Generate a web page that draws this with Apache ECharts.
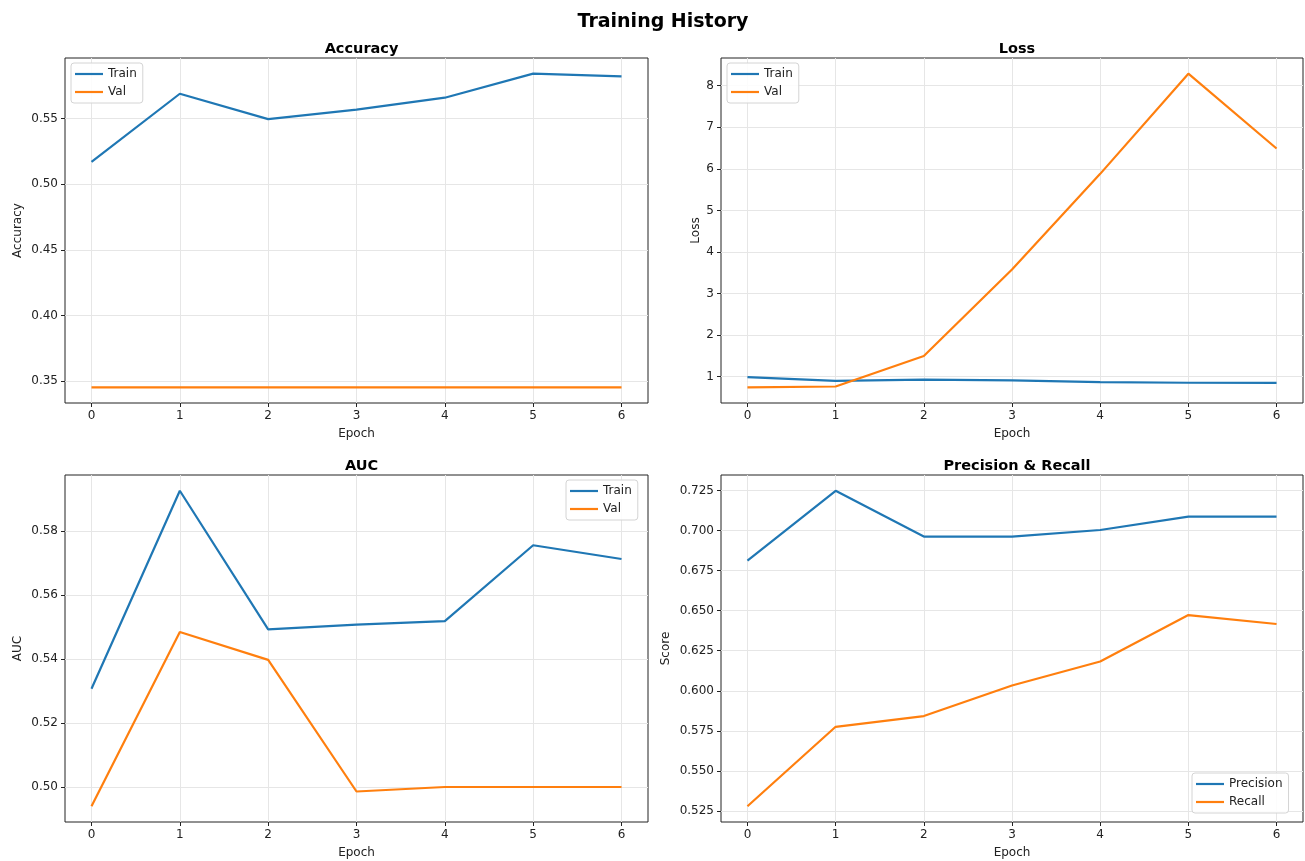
<!DOCTYPE html>
<html><head><meta charset="utf-8">
<script src="https://cdn.jsdelivr.net/npm/echarts@6/dist/echarts.min.js"></script>
<style>html,body{margin:0;padding:0;background:#fff}#c{width:1305px;height:861px}</style>
</head><body><div id="c"></div>
<script>
const epochs = [0, 1, 2, 3, 4, 5, 6];
const accTrain = [0.517, 0.569, 0.5497, 0.5569, 0.566, 0.5843, 0.5823];
const accVal = [0.3452, 0.3452, 0.3452, 0.3452, 0.3452, 0.3452, 0.3452];
const lossTrain = [0.99, 0.90, 0.93, 0.91, 0.87, 0.855, 0.85];
const lossVal = [0.745, 0.765, 1.50, 3.58, 5.88, 8.29, 6.49];
const aucTrain = [0.5307, 0.5925, 0.5492, 0.5507, 0.5518, 0.5755, 0.5712];
const aucVal = [0.494, 0.5484, 0.5397, 0.4986, 0.5, 0.5, 0.5];
const precision = [0.6813, 0.7249, 0.6963, 0.6963, 0.7004, 0.7088, 0.7088];
const recall = [0.5279, 0.5775, 0.5842, 0.6033, 0.6183, 0.6473, 0.6417];

const xTicks = [0, 1, 2, 3, 4, 5, 6];
const accTicks = [0.35, 0.40, 0.45, 0.50, 0.55];
const lossTicks = [1, 2, 3, 4, 5, 6, 7, 8];
const aucTicks = [0.50, 0.52, 0.54, 0.56, 0.58];
const prTicks = [0.525, 0.550, 0.575, 0.600, 0.625, 0.650, 0.675, 0.700, 0.725];

const BLUE = '#1f77b4', ORANGE = '#ff7f0e';
const FONT = 'DejaVu Sans';
const TXT = '#222';

function autoRange(arrs) {
  const all = [].concat(...arrs);
  const mn = Math.min(...all), mx = Math.max(...all);
  const p = 0.05 * (mx - mn);
  return [mn - p, mx + p];
}
const xR = autoRange([epochs]);

const grids = [
  {left: 65, top: 58, width: 583, height: 345},
  {left: 721, top: 58, width: 582, height: 345},
  {left: 65, top: 475, width: 583, height: 347},
  {left: 721, top: 475, width: 582, height: 347}
];

const panels = [
  {title: 'Accuracy', yname: 'Accuracy', ticks: accTicks, dec: 2, s: [['Train', accTrain, BLUE], ['Val', accVal, ORANGE]], gap: 41},
  {title: 'Loss', yname: 'Loss', ticks: lossTicks, dec: 0, s: [['Train', lossTrain, BLUE], ['Val', lossVal, ORANGE]], gap: 19},
  {title: 'AUC', yname: 'AUC', ticks: aucTicks, dec: 2, s: [['Train', aucTrain, BLUE], ['Val', aucVal, ORANGE]], gap: 41},
  {title: 'Precision & Recall', yname: 'Score', ticks: prTicks, dec: 3, s: [['Precision', precision, BLUE], ['Recall', recall, ORANGE]], gap: 49}
];

const axisCommon = {
  axisLine: {show: false, onZero: false},
  axisTick: {show: true, inside: false, length: 4, lineStyle: {color: TXT, width: 1}},
  splitLine: {show: true, lineStyle: {color: '#e6e6e6', width: 1}},
  axisLabel: {color: TXT, fontFamily: FONT, fontSize: 12},
  nameTextStyle: {color: TXT, fontFamily: FONT, fontSize: 12}
};

const xAxis = [], yAxis = [], series = [], title = [], grid = [];
title.push({text: 'Training History', left: 658, top: 8, textAlign: 'center',
  textStyle: {fontFamily: FONT, fontSize: 19, fontWeight: 'bold', color: '#000'}});

panels.forEach((p, i) => {
  const g = grids[i];
  grid.push(Object.assign({show: true, borderColor: '#222', borderWidth: 1, backgroundColor: 'transparent'}, g));
  title.push({text: p.title, left: g.left + g.width / 2, top: g.top - 21, textAlign: 'center',
    textStyle: {fontFamily: FONT, fontSize: 14.5, fontWeight: 'bold', color: '#000'}});
  xAxis.push(Object.assign({}, axisCommon, {
    type: 'value', gridIndex: i, min: xR[0], max: xR[1], position: 'bottom',
    name: 'Epoch', nameLocation: 'middle', nameGap: 25,
    axisTick: Object.assign({}, axisCommon.axisTick, {customValues: xTicks}),
    axisLabel: Object.assign({}, axisCommon.axisLabel, {customValues: xTicks, margin: 7, formatter: v => String(v)})
  }));
  const yr = autoRange(p.s.map(s => s[1]));
  yAxis.push(Object.assign({}, axisCommon, {
    type: 'value', gridIndex: i, min: yr[0], max: yr[1], position: 'left',
    name: p.yname, nameLocation: 'middle', nameGap: p.gap, nameRotate: 90,
    axisTick: Object.assign({}, axisCommon.axisTick, {customValues: p.ticks}),
    axisLabel: Object.assign({}, axisCommon.axisLabel, {customValues: p.ticks, margin: 7, formatter: v => v.toFixed(p.dec)})
  }));
  p.s.forEach(s => {
    series.push({
      name: s[0], type: 'line', xAxisIndex: i, yAxisIndex: i,
      data: epochs.map((e, k) => [e, s[1][k]]),
      symbol: 'none', showSymbol: false, color: s[2],
      lineStyle: {color: s[2], width: 2.2}, silent: true, animation: false
    });
  });
});

const legendCommon = {
  orient: 'vertical', icon: 'rect', itemWidth: 28, itemHeight: 2.2, itemGap: 6,
  backgroundColor: 'rgba(255,255,255,0.85)', borderColor: '#d4d4d4', borderWidth: 1, borderRadius: 3,
  padding: [5, 6, 5, 4], textStyle: {color: TXT, fontFamily: FONT, fontSize: 12}
};
const legend = [
  Object.assign({}, legendCommon, {left: 71, top: 63, data: ['Train', 'Val']}),
  Object.assign({}, legendCommon, {left: 727, top: 63, data: ['Train', 'Val']}),
  Object.assign({}, legendCommon, {left: 566, top: 480, data: ['Train', 'Val']}),
  Object.assign({}, legendCommon, {left: 1192, top: 773, data: ['Precision', 'Recall']})
];

const chart = echarts.init(document.getElementById('c'), null, {renderer: 'canvas'});
chart.setOption({backgroundColor: '#fff', animation: false, title, grid, xAxis, yAxis, series, legend});
</script></body></html>
